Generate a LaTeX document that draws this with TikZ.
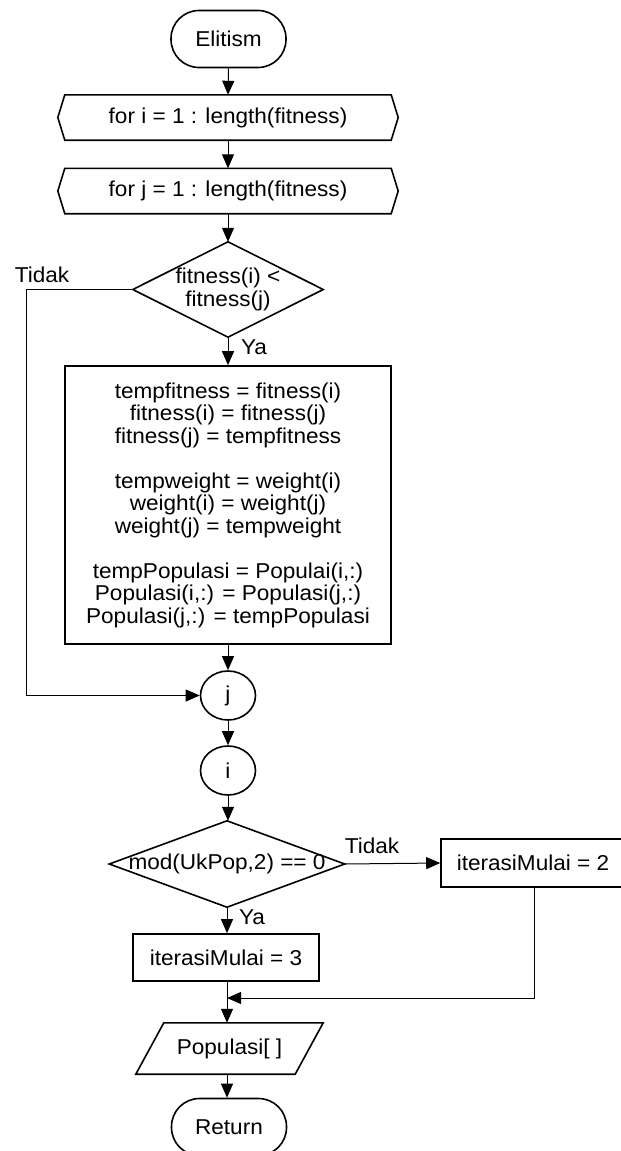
\documentclass[tikz,border=0pt]{standalone}
\usepackage{fontspec}
\setmainfont{Liberation Sans}[FakeStretch=1.05]
\usetikzlibrary{arrows.meta,shapes.geometric,calc}
\begin{document}
\begin{tikzpicture}[x=1pt,y=-1pt,
  every node/.style={font=\fontsize{21.5}{22.5}\selectfont, inner sep=0pt},
  shp/.style={line width=1.6pt},
  term/.style={shp, draw, rectangle, rounded corners=28pt, minimum width=115pt, minimum height=57pt},
  hexbox/.style={rectangle, minimum width=340pt, minimum height=45pt},
  proc/.style={shp, draw, rectangle, align=center},
  conn/.style={shp, draw, ellipse, minimum width=55pt, minimum height=49pt},
  arr/.style={line width=1pt, -{Triangle[length=14pt,width=12pt]}},
  ln/.style={line width=1pt},
  lbl/.style={}
]
\useasboundingbox (0,0) rectangle (621,1151);

\node[term] (elit) at (228.5,39) {Elitism};
\node[hexbox] (fori) at (228,117.5) {for i = 1 : length(fitness)};
\node[hexbox] (forj) at (228,191) {for j = 1 : length(fitness)};
\foreach \h in {fori,forj}{
  \draw[shp] (\h.west) -- ([xshift=7pt]\h.north west) -- ([xshift=-7pt]\h.north east) -- (\h.east) -- ([xshift=-7pt]\h.south east) -- ([xshift=7pt]\h.south west) -- cycle;
}
\node[rectangle, minimum width=190pt, minimum height=95pt, align=center] (d1) at (228,289.5) {fitness(i) <\\fitness(j)};
\draw[shp] (d1.north) -- (d1.east) -- (d1.south) -- (d1.west) -- cycle;

\node[proc, minimum width=326pt, minimum height=278pt] (body) at (228,505) {tempfitness = fitness(i)\\fitness(i) = fitness(j)\\fitness(j) = tempfitness\\[22.5pt]tempweight = weight(i)\\weight(i) = weight(j)\\weight(j) = tempweight\\[22.5pt]tempPopulasi = Populai(i,:)\\Populasi(i,:) = Populasi(j,:)\\Populasi(j,:) = tempPopulasi};

\node[conn] (cj) at (228,695.5) {j};
\node[conn] (ci) at (228,770.5) {i};

\node[rectangle, minimum width=235pt, minimum height=86pt] (d2) at (227,864) {mod(UkPop,2) == 0};
\draw[shp] (d2.north) -- (d2.east) -- (d2.south) -- (d2.west) -- cycle;

\node[proc, minimum width=184pt, minimum height=48pt] (b2) at (533,863) {iterasiMulai = 2};
\node[proc, minimum width=186pt, minimum height=47pt] (b3) at (226,957.5) {iterasiMulai = 3};

\node[rectangle, minimum width=187pt, minimum height=51pt] (pop) at (229.5,1048.5) {Populasi[ ]};
\draw[shp] (pop.south west) -- ([xshift=28pt]pop.north west) -- (pop.north east) -- ([xshift=-28pt]pop.south east) -- cycle;

\node[term] (ret) at (229,1127) {Return};

\coordinate (jn) at (227,998);
\coordinate (lft) at (26,289.5);

\draw[arr] (elit.south) -- (fori.north);
\draw[arr] (fori.south) -- (forj.north);
\draw[arr] (forj.south) -- (d1.north);
\draw[arr] (d1.south) -- (body.north -| d1.south);
\draw[ln] (d1.west) -- (lft);
\draw[arr] (lft) |- (cj.west);
\draw[arr] (body.south -| cj.north) -- (cj.north);
\draw[arr] (cj.south) -- (ci.north);
\draw[arr] (ci.south) -- (d2.north -| ci.south);
\draw[arr] (d2.east) -- (b2.west);
\draw[arr] (d2.south) -- (b3.north -| d2.south);
\draw[ln] (b3.south -| d2.south) -- (jn);
\draw[arr] (jn) -- (pop.north -| jn);
\draw[arr] (b2.south -| 534,0) |- (jn);
\draw[arr] (pop.south -| jn) -- (ret.north -| jn);

\node[lbl] (t1) at (42,275) {Tidak};
\node[lbl] (y1) at (254,347) {Ya};
\node[lbl] (t2) at (372,846) {Tidak};
\node[lbl] (y2) at (252,917) {Ya};
\end{tikzpicture}
\end{document}
